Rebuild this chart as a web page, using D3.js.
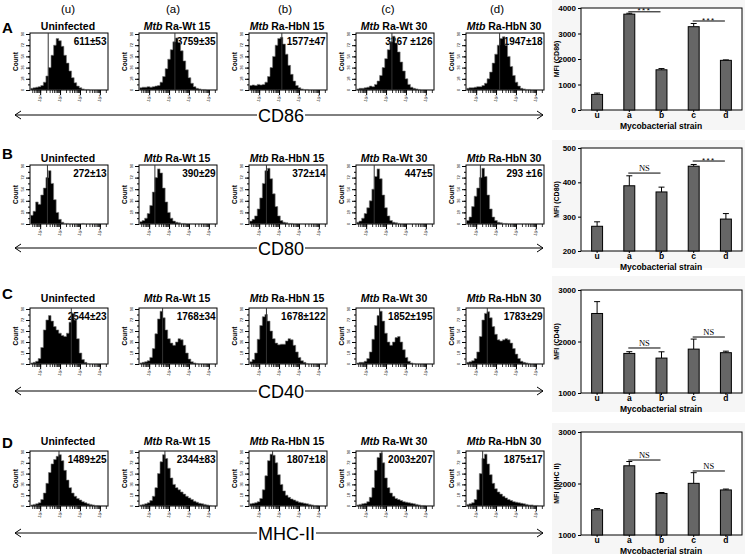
<!DOCTYPE html>
<html>
<head>
<meta charset="utf-8">
<script src="https://cdn.jsdelivr.net/npm/d3@7"></script>
<style>
  html, body { margin: 0; padding: 0; background: #fff; }
  svg { display: block; }
</style>
</head>
<body>
<svg id="chart" width="745" height="554"></svg>
<script>
// ---------------- DATA ----------------
const markers = ["CD86", "CD80", "CD40", "MHC-II"];
const rowLetters = ["A", "B", "C", "D"];
const colHeaders = ["(u)", "(a)", "(b)", "(c)", "(d)"];
const strainTitles = ["Uninfected", "Mtb Ra-Wt 15", "Mtb Ra-HbN 15", "Mtb Ra-Wt 30", "Mtb Ra-HbN 30"];
const categories = ["u", "a", "b", "c", "d"];
const mfiAxisLabels = ["MFI (CD86)", "MFI (CD80)", "MFI (CD40)", "MFI (MHC II)"];

// MFI text shown inside each histogram
const mfiTextCD86 = ["611±53", "3759±35", "1577±47", "3267 ±126", "1947±18"];
const mfiTextCD80 = ["272±13", "390±29", "372±14", "447±5", "293 ±16"];
const mfiTextCD40 = ["2544±23", "1768±34", "1678±122", "1852±195", "1783±29"];
const mfiTextMHC  = ["1489±25", "2344±83", "1807±18", "2003±207", "1875±17"];

// Histogram bin counts (relative, 0-100)
const histCD86 = [
  [3,4,5,6,8,14,25,40,62,80,92,88,78,62,48,34,22,13,7,4,2,1,1,0,0,0,0,0,0,0],
  [4,5,5,6,5,6,7,8,14,24,38,55,72,86,93,85,70,52,36,22,12,6,3,2,1,1,0,0,0,0],
  [8,9,8,10,9,10,14,24,40,60,80,92,94,82,64,44,28,16,8,4,2,1,1,0,0,0,0,0,0,0],
  [2,3,3,4,5,7,6,10,16,26,40,56,72,86,96,84,68,50,34,20,10,5,3,2,1,0,0,0,0,0],
  [3,4,4,5,6,6,8,12,20,32,48,64,80,92,95,80,60,42,26,14,7,3,2,1,1,0,0,0,0,0]
];
const histCD80 = [
  [15,22,38,34,50,62,80,92,70,42,20,8,3,1,1,0,0,0,0,0,1,0,0,0,0,0,0,0,0,0],
  [4,6,10,18,32,55,80,95,88,62,38,20,10,5,3,2,1,1,0,0,0,0,0,0,0,0,0,0,0,0],
  [5,8,14,26,45,70,92,96,78,52,30,14,6,3,2,1,1,0,0,0,0,0,0,0,0,0,0,0,0,0],
  [3,5,10,18,28,40,60,82,95,78,50,28,14,6,3,2,1,0,0,0,0,0,0,0,0,0,0,0,0,0],
  [6,12,30,48,62,80,96,82,50,26,12,6,3,2,1,1,0,0,0,0,0,0,0,0,0,0,0,0,0,0]
];
const histCD40 = [
  [2,3,5,10,30,62,80,88,78,68,62,56,52,50,56,76,92,80,46,20,8,3,1,0,0,0,0,0,0,0],
  [2,3,4,6,12,28,55,82,96,84,62,46,38,34,40,46,44,34,20,9,4,2,1,0,0,0,0,0,0,0],
  [4,8,20,45,70,86,90,78,60,46,38,35,36,36,42,46,44,34,22,12,6,3,1,0,0,0,0,0,0,0],
  [2,3,3,5,10,22,45,70,88,96,78,56,40,34,40,48,50,40,26,12,5,2,1,0,0,0,0,0,0,0],
  [3,4,6,10,22,50,80,92,95,84,68,54,44,42,44,46,44,38,28,18,10,5,3,2,1,0,0,0,0,0]
];
const histMHC = [
  [2,3,4,6,12,24,42,62,78,86,92,95,84,66,48,34,24,18,14,11,8,6,4,3,2,1,1,0,0,0],
  [2,3,4,6,10,18,34,60,82,95,88,70,52,40,34,30,26,22,18,15,12,9,7,5,4,3,2,1,0,0],
  [4,5,6,8,14,30,56,84,96,94,80,58,40,28,20,16,13,11,9,7,6,5,4,3,2,1,1,0,0,0],
  [2,3,4,5,8,16,34,66,90,98,80,52,34,24,18,14,12,10,8,7,6,5,4,3,2,1,1,0,0,0],
  [3,4,6,12,30,60,88,96,78,58,42,32,26,22,18,15,12,10,8,7,6,5,4,3,2,2,1,1,0,0]
];
// gate (marker) line position as fraction of the histogram width
const gateCD86 = [0.23, 0.46, 0.42, 0.46, 0.43];
const gateCD80 = [0.22, 0.20, 0.22, 0.23, 0.18];
const gateCD40 = [0.53, 0.30, 0.22, 0.30, 0.27];
const gateMHC  = [0.37, 0.33, 0.30, 0.33, 0.21];

// Bar chart values (MFI mean and error)
const meanCD86 = [611, 3759, 1577, 3267, 1947];
const errCD86  = [53, 35, 47, 126, 18];
const meanCD80 = [272, 390, 372, 447, 293];
const errCD80  = [13, 29, 14, 5, 16];
const meanCD40 = [2544, 1768, 1678, 1852, 1783];
const errCD40  = [230, 34, 122, 195, 29];
const meanMHC  = [1489, 2344, 1807, 2003, 1875];
const errMHC   = [25, 83, 18, 207, 17];

// y-axis domains and ticks
const domainsBar = [[0, 4000], [200, 500], [1000, 3000], [1000, 3000]];
const ticksCD86 = [0, 1000, 2000, 3000, 4000];
const ticksCD80 = [200, 300, 400, 500];
const ticksCD40 = [1000, 2000, 3000];
const ticksMHC  = [1000, 2000, 3000];

// significance brackets: [from, to, label, level]
const sigCD86 = [["a", "b", "***", 3850], ["c", "d", "***", 3490]];
const sigCD80 = [["a", "b", "NS", 427], ["c", "d", "***", 462]];
const sigCD40 = [["a", "b", "NS", 1874], ["c", "d", "NS", 2087]];
const sigMHC  = [["a", "b", "NS", 2456], ["c", "d", "NS", 2243]];

// histogram log-axis decade labels
const decadeLabels = ["1", "2", "3", "4"];

// ---------------- DRAWING ----------------
const SANS = "'Liberation Sans', Arial, Helvetica, sans-serif";
const SERIF = "'Liberation Serif', 'Times New Roman', serif";
const svg = d3.select("#chart").attr("font-family", SANS);
svg.append("rect").attr("width", 745).attr("height", 554).attr("fill", "#fff");

const hists = [histCD86, histCD80, histCD40, histMHC];
const gates = [gateCD86, gateCD80, gateCD40, gateMHC];
const mfiTexts = [mfiTextCD86, mfiTextCD80, mfiTextCD40, mfiTextMHC];
const means = [meanCD86, meanCD80, meanCD40, meanMHC];
const errs = [errCD86, errCD80, errCD40, errMHC];
const ticksBar = [ticksCD86, ticksCD80, ticksCD40, ticksMHC];
const sigs = [sigCD86, sigCD80, sigCD40, sigMHC];

const rowLayout = [
  { letter: 33, title: 30, top: 33, bottom: 90, arrow: 115 },
  { letter: 159, title: 162, top: 165, bottom: 224, arrow: 248 },
  { letter: 299, title: 302, top: 308, bottom: 364, arrow: 391 },
  { letter: 448, title: 445, top: 451, bottom: 506, arrow: 533 }
];
const boxLefts = [30, 139, 249, 356, 466];
const boxW = 78;
const headerX = [68, 173, 285, 388, 497];
const barLayout = [
  { top: 8, bottom: 110, panelTop: 0, panelBottom: 130 },
  { top: 148, bottom: 251, panelTop: 140, panelBottom: 268 },
  { top: 290, bottom: 393, panelTop: 276, panelBottom: 412 },
  { top: 432, bottom: 535, panelTop: 423, panelBottom: 554 }
];

// column headers
colHeaders.forEach((h, i) => {
  svg.append("text").attr("x", headerX[i]).attr("y", 13)
    .attr("text-anchor", "middle").attr("font-size", 11.5).text(h);
});

markers.forEach((marker, ri) => {
  const L = rowLayout[ri];
  svg.append("text").attr("x", 2).attr("y", L.letter)
    .attr("font-size", 15).attr("font-weight", "bold").text(rowLetters[ri]);

  for (let ci = 0; ci < 5; ci++) {
    const x0 = boxLefts[ci], x1 = x0 + boxW, y0 = L.top, y1 = L.bottom;
    const g = svg.append("g");
    // title
    const title = strainTitles[ci];
    const t = g.append("text").attr("x", x0 + boxW / 2 - 1).attr("y", L.title)
      .attr("text-anchor", "middle").attr("font-size", 10.5).attr("font-weight", "bold");
    if (title.startsWith("Mtb ")) {
      t.append("tspan").attr("font-style", "italic").text("Mtb");
      t.append("tspan").text(" " + title.slice(4));
    } else t.text(title);

    // box
    g.append("rect").attr("x", x0).attr("y", y0).attr("width", boxW).attr("height", y1 - y0)
      .attr("fill", "#fff").attr("stroke", "#000").attr("stroke-width", 1);

    // MFI text (drawn under histogram)
    g.append("text").attr("x", x1 - 1.5).attr("y", y0 + 12)
      .attr("text-anchor", "end").attr("font-size", 10).attr("font-weight", "bold")
      .text(mfiTexts[ri][ci]);

    // histogram
    const bins = hists[ri][ci];
    const hx = d3.scaleLinear().domain([0, bins.length]).range([x0 + 0.5, x1 - 0.5]);
    const hy = d3.scaleLinear().domain([0, 100]).range([y1, y0 + 1]);
    const pts = bins.map((v, i) => [i, v]).concat([[bins.length, bins[bins.length - 1]]]);
    const area = d3.area().x(d => hx(d[0])).y0(y1).y1(d => hy(d[1])).curve(d3.curveStepAfter);
    g.append("path").attr("d", area(pts)).attr("fill", "#000")
      .attr("stroke", "#777").attr("stroke-width", 0.6);

    // gate line
    const gx = hx(gates[ri][ci] * bins.length);
    g.append("line").attr("x1", gx).attr("x2", gx).attr("y1", y0).attr("y2", y1)
      .attr("stroke", "#333").attr("stroke-width", 1);

    // log x axis
    const lx = d3.scaleLog().domain([Math.pow(10, 0.49), Math.pow(10, 4.41)]).range([x0, x1]);
    const minor = [];
    for (let e = 0; e < 5; e++) for (let m = 1; m < 10; m++) {
      const v = m * Math.pow(10, e);
      if (v >= lx.domain()[0] && v <= lx.domain()[1]) minor.push(v);
    }
    const decades = [10, 100, 1000, 10000];
    g.append("g").attr("transform", `translate(0,${y1})`)
      .call(d3.axisBottom(lx).tickValues(minor).tickSize(3).tickFormat(""))
      .call(a => a.select(".domain").remove())
      .call(a => a.selectAll("line").attr("stroke-width", 0.8));
    g.append("g").attr("transform", `translate(0,${y1})`)
      .call(d3.axisBottom(lx).tickValues(decades).tickSize(5).tickFormat(""))
      .call(a => a.select(".domain").remove());
    decades.forEach((d, k) => {
      const tx = lx(d);
      const tt = g.append("text").attr("transform", `translate(${tx + 1.5},${y1 + 9}) rotate(-70)`)
        .attr("font-size", 4.5).attr("text-anchor", "middle").attr("fill", "#222");
      tt.append("tspan").text("10");
      tt.append("tspan").attr("font-size", 3).attr("dy", -1.5).text(decadeLabels[k]);
    });

    // y axis
    const yTicks = d3.range(0, 101, 10);
    g.append("g").attr("transform", `translate(${x0},0)`)
      .call(d3.axisLeft(hy).tickValues(yTicks).tickSize(2).tickFormat(""))
      .call(a => a.select(".domain").remove());
    const yMajor = [0, 20, 40, 60, 80, 100];
    g.append("g").attr("transform", `translate(${x0},0)`)
      .call(d3.axisLeft(hy).tickValues(yMajor).tickSize(4).tickFormat(""))
      .call(a => a.select(".domain").remove());
    yMajor.forEach(v => {
      g.append("text").attr("transform", `translate(${x0 - 6},${hy(v)}) rotate(-90)`)
        .attr("font-size", 4).attr("text-anchor", "middle").text(Math.round(v * 0.9));
    });
    g.append("text").attr("transform", `translate(${x0 - 12},${(y0 + y1) / 2}) rotate(-90)`)
      .attr("font-size", 6.5).attr("font-weight", "bold").attr("text-anchor", "middle").text("Count");
  }

  // arrow line with marker label
  const ay = L.arrow;
  const ag = svg.append("g").attr("stroke", "#000").attr("fill", "none").attr("stroke-width", 1);
  ag.append("line").attr("x1", 15).attr("x2", 543).attr("y1", ay).attr("y2", ay);
  ag.append("path").attr("d", `M${21},${ay - 4} L15,${ay} L${21},${ay + 4}`);
  ag.append("path").attr("d", `M${537},${ay - 4} L543,${ay} L${537},${ay + 4}`);
  const lab = svg.append("text").attr("x", 258).attr("y", ay + 6.5)
    .attr("font-size", 18).text(marker);
  const bb = lab.node().getBBox();
  svg.insert("rect", () => lab.node()).attr("x", bb.x - 1).attr("y", ay - 2)
    .attr("width", bb.width + 2).attr("height", 4).attr("fill", "#fff");

  // ---------- bar chart ----------
  const B = barLayout[ri];
  svg.append("rect").attr("x", 552).attr("y", B.panelTop).attr("width", 193)
    .attr("height", B.panelBottom - B.panelTop).attr("fill", "#f6f6f6");
  const bx = d3.scaleBand().domain(categories).range([581, 742]).paddingInner(0.66).paddingOuter(0.33);
  const by = d3.scaleLinear().domain(domainsBar[ri]).range([B.bottom, B.top]);
  const bg = svg.append("g");
  bg.append("rect").attr("x", 581).attr("y", B.top).attr("width", 161).attr("height", B.bottom - B.top)
    .attr("fill", "#fff").attr("stroke", "#000").attr("stroke-width", 1);

  // error bars
  categories.forEach((c, i) => {
    const cx = bx(c) + bx.bandwidth() / 2;
    const m = means[ri][i], e = errs[ri][i];
    bg.append("line").attr("x1", cx).attr("x2", cx).attr("y1", by(m)).attr("y2", by(m + e))
      .attr("stroke", "#000").attr("stroke-width", 1);
    bg.append("line").attr("x1", cx - 3).attr("x2", cx + 3).attr("y1", by(m + e)).attr("y2", by(m + e))
      .attr("stroke", "#000").attr("stroke-width", 1);
  });
  // bars
  bg.selectAll("rect.bar").data(categories).join("rect").attr("class", "bar")
    .attr("x", c => bx(c)).attr("width", bx.bandwidth())
    .attr("y", (c, i) => by(means[ri][i]))
    .attr("height", (c, i) => B.bottom - by(means[ri][i]))
    .attr("fill", "#666").attr("stroke", "#000").attr("stroke-width", 1);

  // axes
  bg.append("g").attr("transform", `translate(581,0)`)
    .call(d3.axisLeft(by).tickValues(ticksBar[ri]).tickSize(3).tickPadding(2).tickFormat(d3.format("d")))
    .call(a => a.select(".domain").remove())
    .call(a => a.selectAll("text").attr("font-size", 8).attr("font-weight", "bold").attr("font-family", SANS));
  bg.append("g").attr("transform", `translate(0,${B.bottom})`)
    .call(d3.axisBottom(bx).tickSize(2).tickPadding(0))
    .call(a => a.select(".domain").remove())
    .call(a => a.selectAll("text").attr("font-size", 8.5).attr("font-weight", "bold").attr("font-family", SANS));
  bg.append("text").attr("x", 661).attr("y", B.bottom + 18.5).attr("text-anchor", "middle")
    .attr("font-size", 8.5).attr("font-weight", "bold").text("Mycobacterial strain");
  bg.append("text").attr("transform", `translate(559,${(B.top + B.bottom) / 2}) rotate(-90)`)
    .attr("text-anchor", "middle").attr("font-size", 7).attr("font-weight", "bold").text(mfiAxisLabels[ri]);

  // significance brackets
  sigs[ri].forEach(([f, t, label, lvl]) => {
    const xa = bx(f) + bx.bandwidth() / 2 - 1, xb = bx(t) + bx.bandwidth() / 2 - 1;
    const ly = by(lvl);
    bg.append("line").attr("x1", xa).attr("x2", xb).attr("y1", ly).attr("y2", ly)
      .attr("stroke", "#000").attr("stroke-width", 1);
    if (label === "NS") {
      bg.append("text").attr("x", (xa + xb) / 2).attr("y", ly - 2).attr("text-anchor", "middle")
        .attr("font-family", SERIF).attr("font-size", 8.5).text(label);
    } else {
      bg.append("text").attr("x", (xa + xb) / 2).attr("y", ly + 1.5).attr("text-anchor", "middle")
        .attr("font-size", 8).attr("letter-spacing", 1.5).text(label);
    }
  });
});
</script>
</body>
</html>
